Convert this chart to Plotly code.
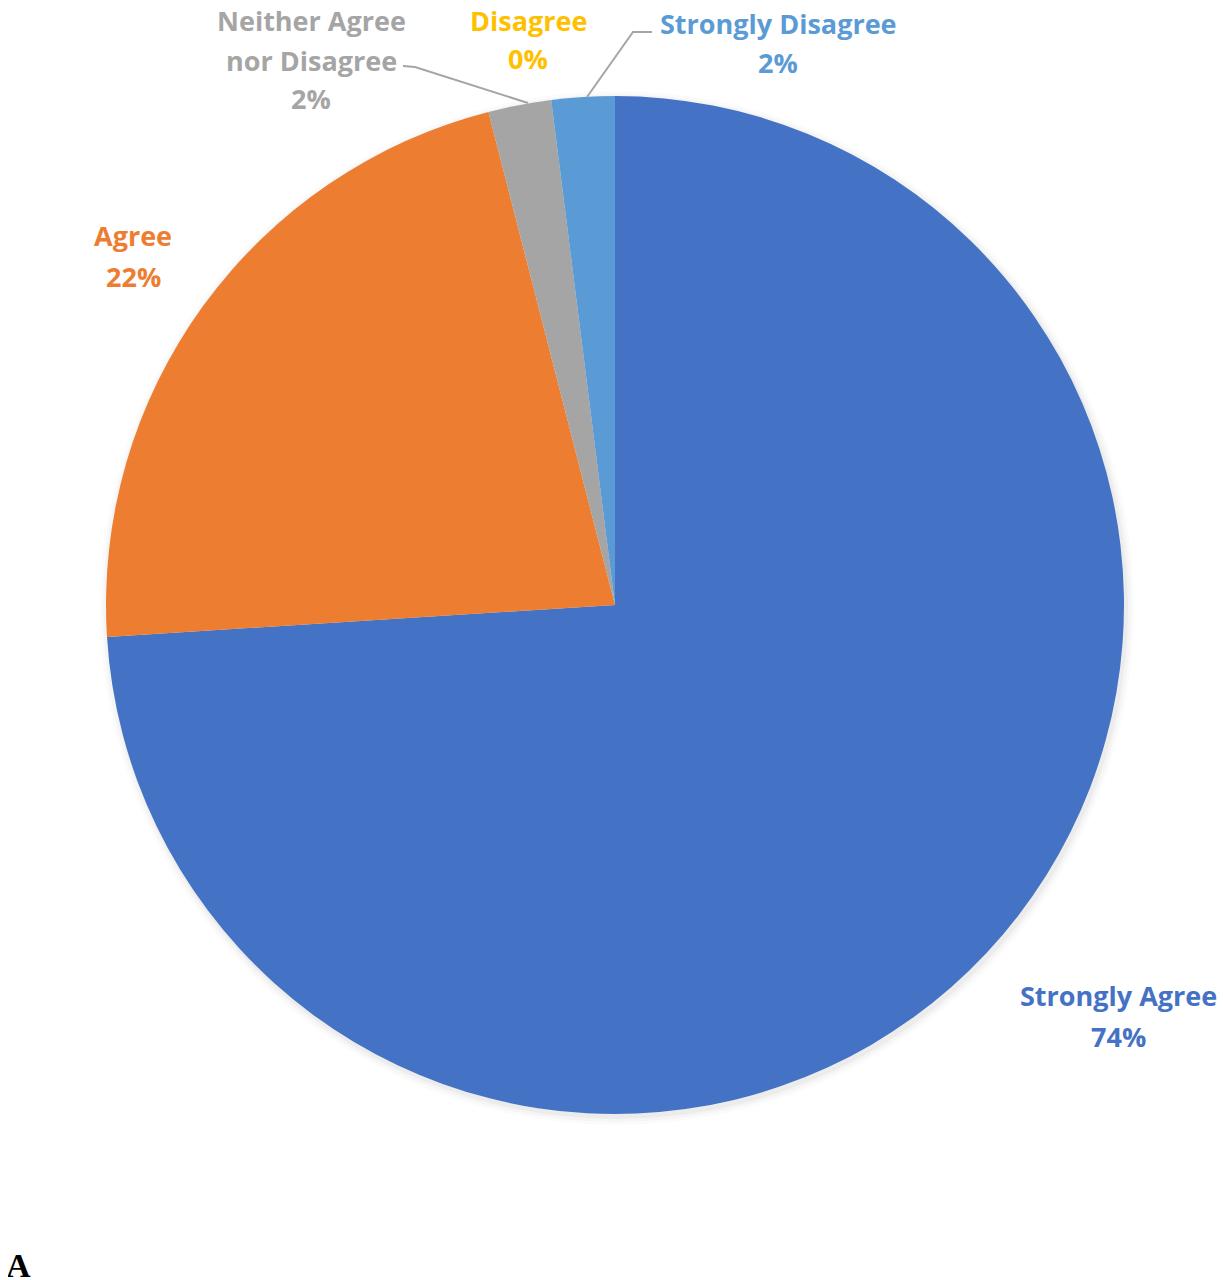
import plotly.graph_objects as go

# survey answers (n = 50)
labels = ['Strongly Agree', 'Agree', 'Neither Agree nor Disagree', 'Disagree', 'Strongly Disagree']
counts = [37, 11, 1, 0, 1]
colors = ['#4472C4', '#ED7D31', '#A5A5A5', '#FFC000', '#5B9BD5']

# label lines shown next to each slice (Excel style)
label_lines = [['Strongly Agree'], ['Agree'], ['Neither Agree', 'nor Disagree'], ['Disagree'], ['Strongly Disagree']]

W, H = 1226, 1280
OFF = 8  # page margin of the browser
cx, cy, r = 615 - OFF, 605 - OFF, 509

def px(x):
    return (x - OFF) / W

def py(y):
    return 1 - (y - OFF) / H

fig = go.Figure()
fig.add_trace(go.Pie(
    labels=labels, values=counts, sort=False, direction='clockwise', rotation=0,
    marker=dict(colors=colors, line=dict(width=0)),
    textinfo='none', hoverinfo='label+percent', showlegend=False,
    domain=dict(x=[(cx - r) / W, (cx + r) / W], y=[1 - (cy + r) / H, 1 - (cy - r) / H]),
))

# soft shadow around the pie
for i, a in enumerate([0.035, 0.025, 0.015]):
    d = 2 + i * 3
    fig.add_shape(type='circle', xref='paper', yref='paper', layer='below',
                  x0=(cx - r - d + 2) / W, x1=(cx + r + d + 2) / W,
                  y0=1 - (cy + r + d + 3) / H, y1=1 - (cy - r - d + 3) / H,
                  fillcolor=f'rgba(0,0,0,{a})', line_width=0)

# first-line position of each label (screen px) and line spacing
pos = [(1118, 995), (133, 235), (311, 21), (528, 21), (778, 23)]
steps = [41, 41, 39, 37, 39]
total = sum(counts)
for lines, c, col, (x, y), step in zip(label_lines, counts, colors, pos, steps):
    pct = round(100 * c / total)
    for k, t in enumerate(lines + [f'{pct}%']):
        fig.add_annotation(x=px(x), y=py(y + k * step), xref='paper', yref='paper',
                           showarrow=False, xanchor='center', yanchor='middle',
                           text=f'<b>{t}</b>',
                           font=dict(family='Open Sans', size=27, color=col))

# leader lines
leaders = [[(403, 66), (415, 67), (528, 103)], [(652, 32), (633, 32), (587, 97)]]
for pts in leaders:
    path = 'M ' + ' L '.join(f'{px(x)},{py(y)}' for x, y in pts)
    fig.add_shape(type='path', xref='paper', yref='paper', path=path,
                  line=dict(color='#A5A5A5', width=2))

fig.add_annotation(x=px(18), y=py(1265), xref='paper', yref='paper', showarrow=False,
                   xanchor='center', yanchor='middle', text='<b>A</b>',
                   font=dict(family='Liberation Serif', size=34, color='black'))

fig.update_layout(width=W, height=H, margin=dict(l=0, r=0, t=0, b=0),
                  paper_bgcolor='white', plot_bgcolor='white')

fig.write_html('out.html')
